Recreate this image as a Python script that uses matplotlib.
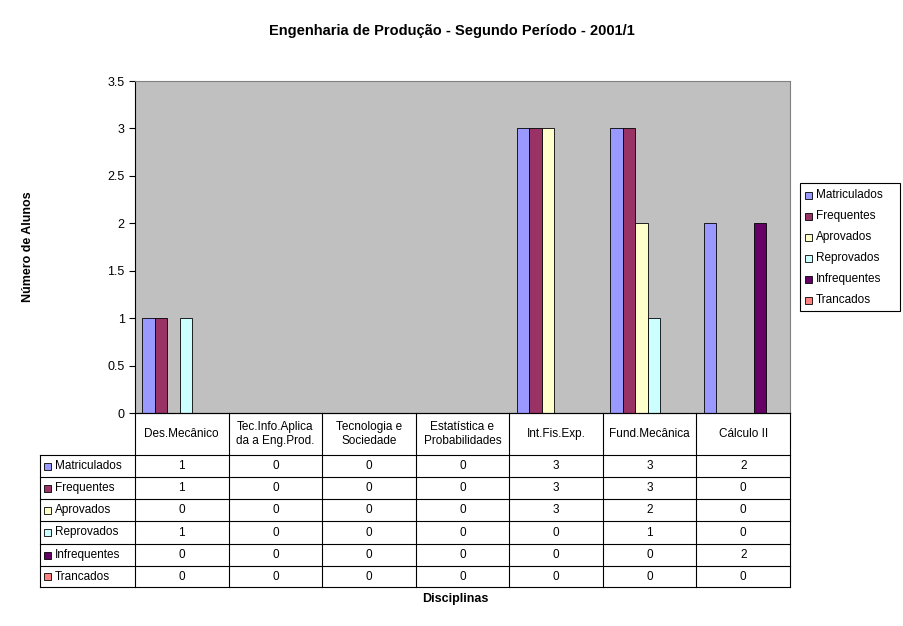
import numpy as np
import matplotlib.pyplot as plt
from matplotlib.patches import Rectangle

plt.rcParams['font.family'] = ['Liberation Sans', 'DejaVu Sans']

categories = ["Des.Mecânico", "Tec.Info.Aplica\nda a Eng.Prod.", "Tecnologia e\nSociedade",
              "Estatística e\nProbabilidades", "Int.Fis.Exp.", "Fund.Mecânica", "Cálculo II"]
series = ["Matriculados", "Frequentes", "Aprovados", "Reprovados", "Infrequentes", "Trancados"]
matriculados = [1, 0, 0, 0, 3, 3, 2]
frequentes = [1, 0, 0, 0, 3, 3, 0]
aprovados = [0, 0, 0, 0, 3, 2, 0]
reprovados = [1, 0, 0, 0, 0, 1, 0]
infrequentes = [0, 0, 0, 0, 0, 0, 2]
trancados = [0, 0, 0, 0, 0, 0, 0]
values = [matriculados, frequentes, aprovados, reprovados, infrequentes, trancados]
colors = ["#9999FF", "#993366", "#FFFFCC", "#CCFFFF", "#660066", "#FF8080"]

W, H = 904, 626
fig = plt.figure(figsize=(W / 100, H / 100), dpi=100)

# plot area in pixels
x0, x1, y0, y1 = 135, 790, 81, 413
ax = fig.add_axes([x0 / W, 1 - y1 / H, (x1 - x0) / W, (y1 - y0) / H])
ax.set_facecolor("#C0C0C0")
n = len(categories)
bw = 0.134
for i, (vals, c) in enumerate(zip(values, colors)):
    xs = np.arange(n) + 0.48 + (i - 2.5) * bw
    ax.bar(xs, vals, width=bw, color=c, edgecolor="black", linewidth=0.6)
ax.set_xlim(0, n)
ax.set_ylim(0, 3.5)
ax.set_yticks(np.arange(0, 3.51, 0.5))
ax.set_yticklabels(["0", "0.5", "1", "1.5", "2", "2.5", "3", "3.5"])
ax.set_xticks([])
ax.tick_params(axis="y", labelsize=9, length=4)
for s in ax.spines.values():
    s.set_color("#808080")
ax.spines["left"].set_color("black")
ax.spines["bottom"].set_color("black")

# overlay in pixel coordinates for the data table
ov = fig.add_axes([0, 0, 1, 1])
ov.set_xlim(0, W)
ov.set_ylim(H, 0)
ov.axis("off")
colw = (x1 - x0) / n
rows = [455, 477, 499, 521, 544, 566, 587]
ov.plot([x0, x1], [413, 413], color="black", lw=0.8)
ov.plot([40, x1], [587, 587], color="black", lw=0.8)
for r in rows[:-1]:
    ov.plot([40, x1], [r, r], color="black", lw=0.8)
ov.plot([40, 40], [455, 587], color="black", lw=0.8)
for j in range(n + 1):
    xx = x0 + j * colw
    ov.plot([xx, xx], [413, 587], color="black", lw=0.8)
for j, cat in enumerate(categories):
    ov.text(x0 + (j + 0.5) * colw, 434, cat, ha="center", va="center", fontsize=8.5)
for i, (name, vals, c) in enumerate(zip(series, values, colors)):
    yc = (rows[i] + rows[i + 1]) / 2
    ov.add_patch(Rectangle((44, yc - 3.5), 7, 7, facecolor=c, edgecolor="black", lw=0.6))
    ov.text(55, yc, name, ha="left", va="center", fontsize=8.5)
    for j, v in enumerate(vals):
        ov.text(x0 + (j + 0.5) * colw, yc, str(v), ha="center", va="center", fontsize=8.5)

# legend
ov.add_patch(Rectangle((800, 183), 100, 128, facecolor="white", edgecolor="black", lw=0.8))
for i, (name, c) in enumerate(zip(series, colors)):
    yc = 195 + i * 21
    ov.add_patch(Rectangle((805, yc - 3.5), 7, 7, facecolor=c, edgecolor="black", lw=0.6))
    ov.text(816, yc, name, ha="left", va="center", fontsize=8.5)

ov.text(452, 31, "Engenharia de Produção - Segundo Período - 2001/1", ha="center",
        va="center", fontsize=10.5, fontweight="bold")
ov.text(455, 599, "Disciplinas", ha="center", va="center", fontsize=9, fontweight="bold")
ov.text(28, 247, "Número de Alunos", ha="center", va="center", fontsize=9,
        fontweight="bold", rotation=90)

fig.savefig("out.png", dpi=100)
